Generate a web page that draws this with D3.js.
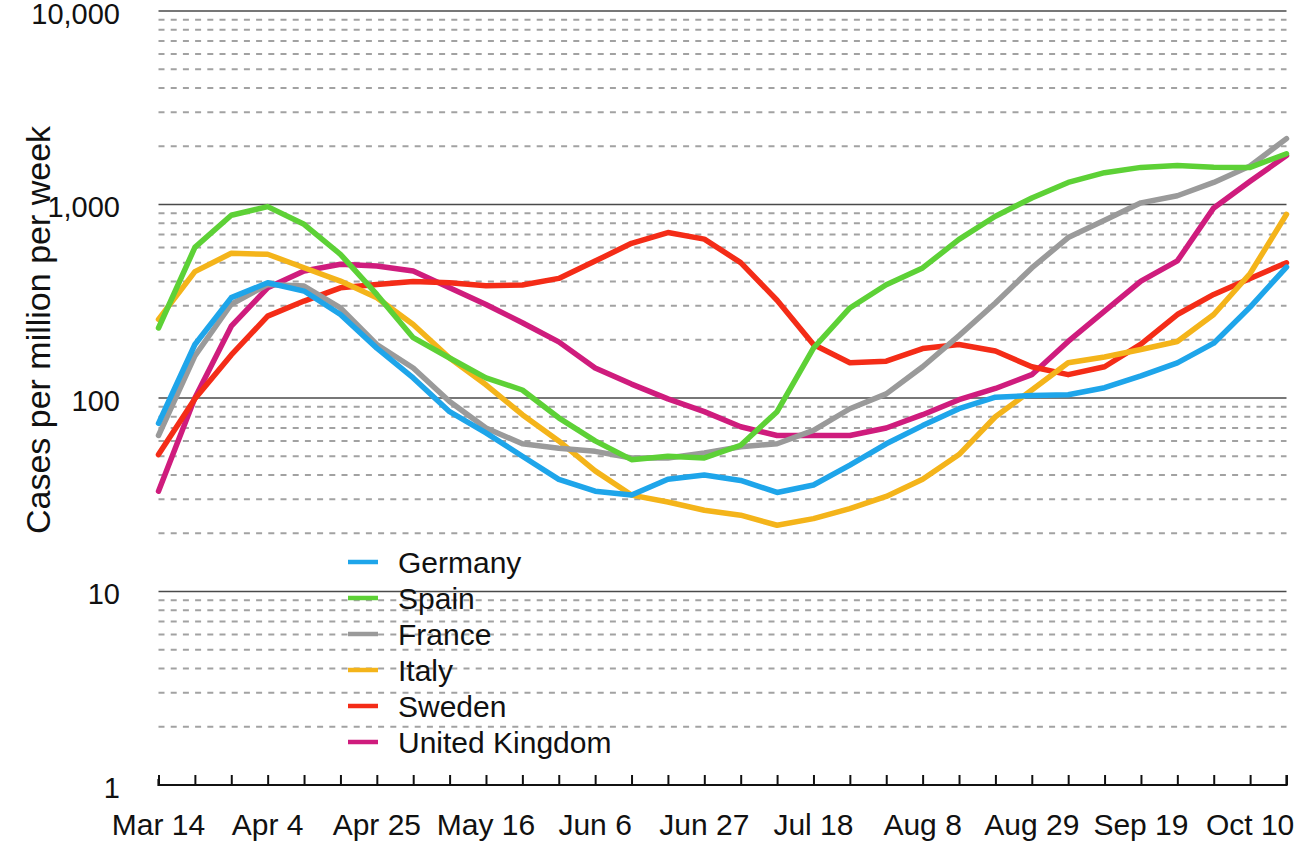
<!DOCTYPE html>
<html>
<head>
<meta charset="utf-8">
<script src="https://cdn.jsdelivr.net/npm/d3@7"></script>
<style>
  body { margin: 0; background: #fff; }
  svg text { font-family: "Liberation Sans", Arial, Helvetica, sans-serif; fill: #111; }
</style>
</head>
<body>
<svg id="chart" width="1301" height="842"></svg>
<script>
// weekly cases per million, Mar 14 .. Oct 17
var start = new Date(Date.UTC(2020, 2, 14))
var weeks = d3.range(32).map(function (i) { return d3.utcDay.offset(start, 7 * i) })

var countries = ['Germany', 'Spain', 'France', 'Italy', 'Sweden', 'United Kingdom']
var colors = ['#1ea5ea', '#5dd136', '#9a9a9a', '#f4b41a', '#f42c17', '#cf1c7d']

var germany = [74, 189, 330, 394, 357, 270, 181, 127, 85, 66, 50, 38, 33, 31.5, 38, 40,
  37.5, 32.5, 35.5, 45, 58, 72, 88, 101, 103, 104, 113, 130, 152, 192, 295, 475]
var spain = [230, 600, 880, 975, 790, 553, 343, 205, 161, 127, 110, 79, 60, 48, 50, 49,
  57, 85, 181, 292, 385, 470, 660, 870, 1080, 1300, 1460, 1555, 1590, 1560, 1555, 1830]
var france = [64, 165, 305, 386, 379, 292, 189, 143, 96, 70, 58, 55, 53, 49, 49, 52,
  56, 58, 68, 88, 105, 145, 210, 310, 470, 675, 830, 1020, 1110, 1300, 1580, 2190]
var italy = [255, 450, 560, 553, 471, 402, 330, 240, 161, 117, 82, 60, 42, 31.5, 29, 26.3,
  24.8, 22, 23.8, 26.8, 31, 38, 51, 80, 110, 152, 163, 178, 196, 270, 440, 890]
var sweden = [51, 99, 167, 265, 317, 371, 386, 400, 394, 380, 384, 415, 510, 630, 716, 662,
  501, 320, 189, 152, 155, 180, 189, 175, 145, 132, 145, 190, 270, 343, 415, 500]
var uk = [33, 100, 235, 371, 453, 491, 481, 453, 371, 304, 245, 195, 143, 118, 99, 85,
  71, 64, 64, 64, 70, 82, 98, 112, 132, 196, 281, 402, 511, 960, 1318, 1790]

var seriesValues = [germany, spain, france, italy, sweden, uk]
var yTicks = [1, 10, 100, 1000, 10000]
var xLabels = ['Mar 14', 'Apr 4', 'Apr 25', 'May 16', 'Jun 6', 'Jun 27', 'Jul 18', 'Aug 8', 'Aug 29', 'Sep 19', 'Oct 10']

var svg = d3.select('#chart')

var x = d3.scaleUtc().domain([weeks[0], weeks[31]]).range([158.5, 1286.5])
var y = d3.scaleLog().domain([1, 10000]).range([785, 11])

// minor dashed grid
var minor = []
yTicks.slice(0, 4).forEach(function (d) {
  d3.range(2, 10).forEach(function (k) { minor.push(d * k) })
})
svg.append('g').selectAll('line').data(minor).enter().append('line')
  .attr('x1', x.range()[0]).attr('x2', x.range()[1])
  .attr('y1', function (d) { return y(d) }).attr('y2', function (d) { return y(d) })
  .attr('stroke', '#a2a2a2').attr('stroke-width', 2)
  .attr('stroke-dasharray', '6,6.2')

// major grid
svg.append('g').selectAll('line').data(yTicks.slice(1)).enter().append('line')
  .attr('x1', x.range()[0]).attr('x2', x.range()[1])
  .attr('y1', function (d) { return y(d) }).attr('y2', function (d) { return y(d) })
  .attr('stroke', '#4a4a4a').attr('stroke-width', 1.6)

// y labels
svg.append('g').selectAll('text').data(yTicks).enter().append('text')
  .attr('x', 120).attr('y', function (d) { return y(d) })
  .attr('dy', '0.44em')
  .attr('text-anchor', 'end')
  .attr('font-size', 29)
  .text(function (d) { return d3.format(',')(d) })

svg.append('text')
  .attr('transform', 'translate(50,330) rotate(-90)')
  .attr('text-anchor', 'middle')
  .attr('font-size', 34)
  .text('Cases per million per week')

// x axis
var xAxis = d3.axisBottom(x).tickValues(weeks).tickSize(-10).tickFormat('')
var gx = svg.append('g').attr('transform', 'translate(0,785)').call(xAxis)
gx.select('.domain').attr('d', 'M' + x.range()[0] + ',-6V0H' + x.range()[1] + 'V-10')
  .attr('stroke', '#111').attr('stroke-width', 2.2)
gx.selectAll('.tick line').attr('stroke', '#111').attr('stroke-width', 2)

svg.append('g').selectAll('text').data(xLabels).enter().append('text')
  .attr('x', function (d, i) { return x(weeks[i * 3]) })
  .attr('y', 835)
  .attr('text-anchor', 'middle')
  .attr('font-size', 30)
  .text(function (d) { return d })

// lines, drawn from last to first so Germany is on top
var line = d3.line()
  .x(function (d, i) { return x(weeks[i]) })
  .y(function (d) { return y(d) })

svg.append('g').selectAll('path').data(d3.range(countries.length).reverse()).enter().append('path')
  .attr('d', function (k) { return line(seriesValues[k]) })
  .attr('fill', 'none')
  .attr('stroke', function (k) { return colors[k] })
  .attr('stroke-width', 5.5)
  .attr('stroke-linejoin', 'round')
  .attr('stroke-linecap', 'round')

// legend
var leg = svg.append('g').selectAll('g').data(countries).enter().append('g')
  .attr('transform', function (d, i) { return 'translate(348,' + (562 + i * 36) + ')' })
leg.append('line')
  .attr('x1', 0).attr('x2', 30)
  .attr('stroke', function (d, i) { return colors[i] })
  .attr('stroke-width', 4.5)
leg.append('text')
  .attr('x', 50).attr('dy', '0.36em')
  .attr('font-size', 30)
  .text(function (d) { return d })
</script>
</body>
</html>
